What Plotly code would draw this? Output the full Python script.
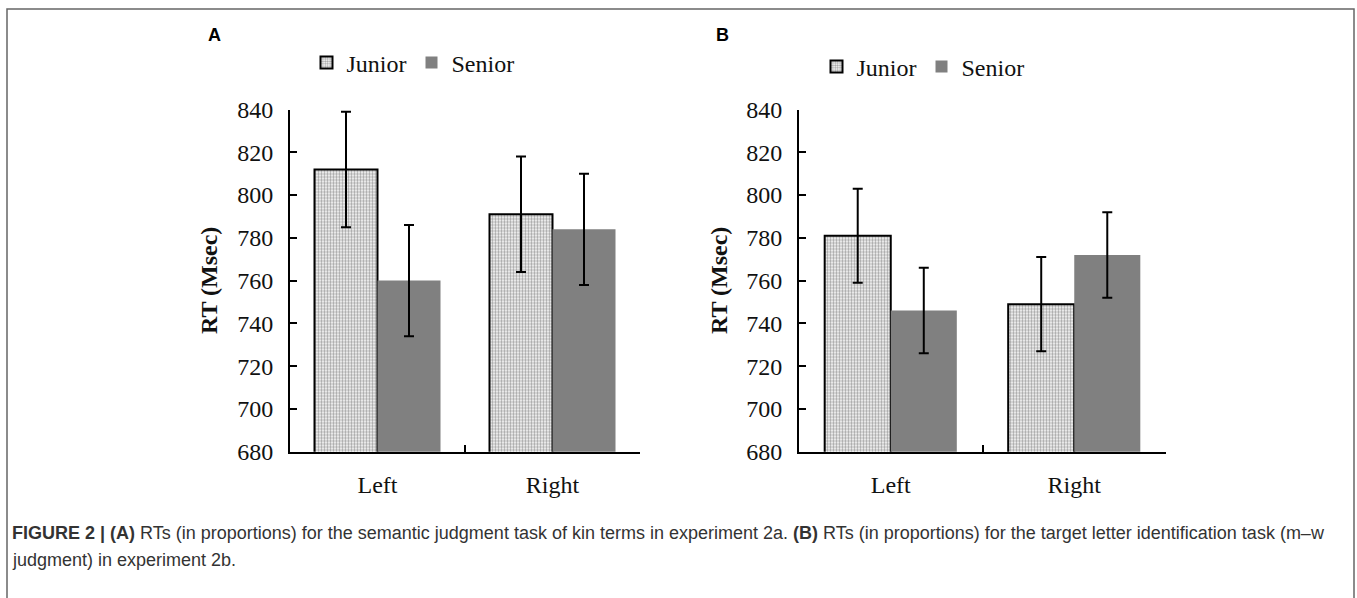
import plotly.graph_objects as go

W, H = 1357, 598

categories = ["Left", "Right"]
groups = ["Junior", "Senior"]

# Panel A (experiment 2a)
a_junior = [812, 791]
a_junior_err = [27, 27]
a_senior = [760, 784]
a_senior_err = [26, 26]

# Panel B (experiment 2b)
b_junior = [781, 749]
b_junior_err = [22, 22]
b_senior = [746, 772]
b_senior_err = [20, 20]

y_ticks = [680, 700, 720, 740, 760, 780, 800, 820, 840]

SERIF = "Liberation Serif, Times New Roman, serif"
SANS = "Liberation Sans, Arial, sans-serif"
FS = 24


def px_x(p):
    return p / W


def px_y(p):
    return 1 - p / H


fig = go.Figure()

junior_style = dict(
    marker=dict(
        color="white",
        line=dict(color="black", width=2),
        pattern=dict(shape=".", fgcolor="#444444", bgcolor="white", size=3, solidity=0.5),
    )
)
senior_style = dict(marker=dict(color="#808080", line=dict(width=0)))
err_style = dict(type="data", color="black", thickness=2, width=5)

panels = [
    ("x", "y", "legend", a_junior, a_junior_err, a_senior, a_senior_err),
    ("x2", "y2", "legend2", b_junior, b_junior_err, b_senior, b_senior_err),
]
for xa, ya, lg, jv, je, sv, se in panels:
    fig.add_trace(go.Bar(x=categories, y=jv, name=groups[0], xaxis=xa, yaxis=ya, legend=lg,
                         error_y=dict(array=je, **err_style), **junior_style))
    fig.add_trace(go.Bar(x=categories, y=sv, name=groups[1], xaxis=xa, yaxis=ya, legend=lg,
                         error_y=dict(array=se, **err_style), **senior_style))

ydom = [px_y(451.7), px_y(109.5)]

xaxis_common = dict(
    type="category", showline=True, linecolor="black", linewidth=2, mirror=False,
    ticks="inside", ticklen=7, tickwidth=2, tickcolor="black", tickson="boundaries",
    showgrid=False, zeroline=False, ticklabelstandoff=10, automargin=False,
    tickfont=dict(family=SERIF, size=FS, color="#111111"),
)
yaxis_common = dict(
    range=[680, 840], tickvals=y_ticks, showline=True, linecolor="black", linewidth=2,
    ticks="inside", ticklen=7, tickwidth=2, tickcolor="black",
    showgrid=False, zeroline=False, ticklabelstandoff=10, automargin=False,
    tickfont=dict(family=SERIF, size=FS, color="#111111"),
)

legend_common = dict(
    orientation="h", xanchor="center", yanchor="middle",
    font=dict(family=SERIF, size=FS, color="#111111"),
    bgcolor="rgba(0,0,0,0)", itemwidth=30, tracegroupgap=0,
)

fig.update_layout(
    width=W, height=H,
    margin=dict(l=0, r=0, t=0, b=0, autoexpand=False),
    paper_bgcolor="white", plot_bgcolor="white",
    barmode="group", bargap=0.28, bargroupgap=0,
    xaxis=dict(domain=[px_x(290), px_x(640)], anchor="y", **xaxis_common),
    yaxis=dict(domain=ydom, anchor="x", **yaxis_common),
    xaxis2=dict(domain=[px_x(799), px_x(1166)], anchor="y2", **xaxis_common),
    yaxis2=dict(domain=ydom, anchor="x2", **yaxis_common),
    legend=dict(x=px_x(413), y=px_y(63), **legend_common),
    legend2=dict(x=px_x(923), y=px_y(67), **legend_common),
    showlegend=True,
)

annotations = [
    dict(text="<b>RT (Msec)</b>", x=px_x(209), y=px_y(281), textangle=-90,
         font=dict(family=SERIF, size=FS, color="#111111")),
    dict(text="<b>RT (Msec)</b>", x=px_x(719), y=px_y(281), textangle=-90,
         font=dict(family=SERIF, size=FS, color="#111111")),
    dict(text="<b>A</b>", x=px_x(214), y=px_y(35),
         font=dict(family=SANS, size=18, color="black")),
    dict(text="<b>B</b>", x=px_x(722), y=px_y(35),
         font=dict(family=SANS, size=18, color="black")),
    dict(text="<b>FIGURE 2 | (A)</b> RTs (in proportions) for the semantic judgment task of kin terms in experiment 2a. "
              "<b>(B)</b> RTs (in proportions) for the target letter identification task (m–w",
         x=px_x(10), y=px_y(533), xanchor="left",
         font=dict(family=SANS, size=18, color="#333333")),
    dict(text="judgment) in experiment 2b.", x=px_x(10), y=px_y(560), xanchor="left",
         font=dict(family=SANS, size=18, color="#333333")),
]
for a in annotations:
    a.setdefault("xref", "paper")
    a.setdefault("yref", "paper")
    a.setdefault("showarrow", False)
    a.setdefault("yanchor", "middle")
    a.setdefault("xanchor", "center")
fig.update_layout(annotations=annotations)

fig.add_shape(type="rect", xref="paper", yref="paper",
              x0=px_x(7), x1=px_x(1354), y0=-0.05, y1=px_y(9),
              line=dict(color="#666666", width=1.5), fillcolor="rgba(0,0,0,0)")

fig.write_html("out.html", config={"displayModeBar": False},
               post_script="document.body.style.margin='0';document.body.style.overflow='hidden';")
